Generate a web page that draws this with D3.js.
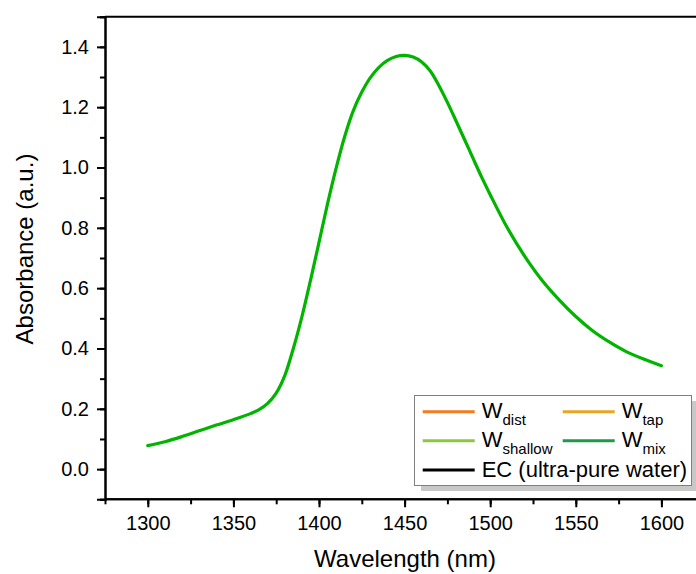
<!DOCTYPE html>
<html>
<head>
<meta charset="utf-8">
<script src="https://cdn.jsdelivr.net/npm/d3@7"></script>
<style>
  body { margin: 0; background: #fff; }
  text { font-family: "Liberation Sans", Arial, sans-serif; fill: #000; }
</style>
</head>
<body>
<script>
// absorbance spectrum (all five samples overlap)
var wavelength = [1300, 1310, 1320, 1330, 1340, 1350, 1360, 1365, 1370, 1375, 1380, 1385, 1390, 1395,
  1400, 1405, 1410, 1415, 1420, 1425, 1430, 1435, 1440, 1445, 1450, 1455, 1460, 1465, 1470, 1475,
  1480, 1485, 1490, 1495, 1500, 1510, 1520, 1530, 1540, 1550, 1560, 1570, 1580, 1590, 1600];
var absorbance = [0.078, 0.091, 0.108, 0.127, 0.146, 0.164, 0.184, 0.197, 0.218, 0.252, 0.310, 0.400, 0.505, 0.625,
  0.752, 0.880, 0.998, 1.103, 1.188, 1.250, 1.298, 1.332, 1.355, 1.368, 1.372, 1.366, 1.350, 1.320, 1.272, 1.216,
  1.155, 1.093, 1.030, 0.968, 0.910, 0.800, 0.707, 0.628, 0.563, 0.506, 0.458, 0.420, 0.388, 0.364, 0.343];

var xTicks = [1300, 1350, 1400, 1450, 1500, 1550, 1600];
var yTicks = [0.0, 0.2, 0.4, 0.6, 0.8, 1.0, 1.2, 1.4];

var legendNames = ['W', 'W', 'W', 'W', 'EC (ultra-pure water)'];
var legendSubs = ['dist', 'tap', 'shallow', 'mix', ''];
var legendColors = ['#f47b20', '#e9a623', '#8dc63f', '#1e9a4a', '#000000'];

var W = 696, H = 574;
var svg = d3.select('body').append('svg')
  .attr('width', W)
  .attr('height', H);

var x = d3.scaleLinear().domain([1275, 1625]).range([105, 704.2]);
var y = d3.scaleLinear().domain([-0.1, 1.5]).range([499.3, 16.7]);

// frame (top line; right side is cut off in the original)
svg.append('line')
  .attr('x1', x(1275)).attr('x2', W + 5)
  .attr('y1', y(1.5)).attr('y2', y(1.5))
  .attr('stroke', '#000').attr('stroke-width', 2);

// minor ticks
var xMinor = d3.axisBottom(x).tickValues(d3.range(1275, 1626, 25)).tickSize(5).tickFormat('');
var yMinor = d3.axisLeft(y).tickValues(d3.range(-0.1, 1.51, 0.1)).tickSize(5).tickFormat('');
// major ticks
var xAxis = d3.axisBottom(x).tickValues(xTicks).tickSize(8).tickPadding(9).tickFormat(d3.format('d'));
var yAxis = d3.axisLeft(y).tickValues(yTicks).tickSize(8).tickPadding(8).tickFormat(d3.format('.1f'));

var gx = svg.append('g').attr('transform', 'translate(0,' + y(-0.1) + ')');
gx.append('g').call(xMinor);
gx.append('g').call(xAxis);
var gy = svg.append('g').attr('transform', 'translate(' + x(1275) + ',0)');
gy.append('g').call(yMinor);
gy.append('g').call(yAxis);

svg.selectAll('.domain').attr('stroke', '#000').attr('stroke-width', 2);
svg.selectAll('.tick line').attr('stroke', '#000').attr('stroke-width', 2);
svg.selectAll('.tick text').attr('font-size', 20).attr('font-family', '"Liberation Sans", Arial, sans-serif');
gx.selectAll('.domain').attr('d', 'M' + x(1275) + ',0H' + (W + 5));

// axis titles
svg.append('text')
  .attr('x', 405).attr('y', 567)
  .attr('text-anchor', 'middle')
  .attr('font-size', 24)
  .text('Wavelength (nm)');
svg.append('text')
  .attr('transform', 'translate(33,' + 249 + ') rotate(-90)')
  .attr('text-anchor', 'middle')
  .attr('font-size', 24)
  .text('Absorbance (a.u.)');

// curve
var line = d3.line()
  .x(function(d, i) { return x(wavelength[i]); })
  .y(function(d) { return y(d); })
  .curve(d3.curveCatmullRom.alpha(0.5));
svg.append('path')
  .datum(absorbance)
  .attr('d', line)
  .attr('fill', 'none')
  .attr('stroke', '#00b400')
  .attr('stroke-width', 3.2)
  .attr('stroke-linejoin', 'round')
  .attr('stroke-linecap', 'round');

// legend
var lg = svg.append('g');
lg.append('rect')
  .attr('x', 421).attr('y', 401).attr('width', 280).attr('height', 90)
  .attr('fill', '#c8c8c8');
lg.append('rect')
  .attr('x', 414.5).attr('y', 395.5).attr('width', 277).attr('height', 90)
  .attr('fill', '#fff').attr('stroke', '#7f7f7f').attr('stroke-width', 1);

var rowY = [411.7, 411.7, 440.7, 440.7, 470];
var colX = [422.7, 562.7, 422.7, 562.7, 422.7];
legendNames.forEach(function(name, i) {
  lg.append('line')
    .attr('x1', colX[i]).attr('x2', colX[i] + 52)
    .attr('y1', rowY[i]).attr('y2', rowY[i])
    .attr('stroke', legendColors[i]).attr('stroke-width', 3);
  var t = lg.append('text')
    .attr('x', colX[i] + 59).attr('y', rowY[i] + 6.5)
    .attr('font-size', 22);
  t.append('tspan').text(name);
  if (legendSubs[i]) {
    t.append('tspan').attr('dy', 6.5).attr('font-size', 15).text(legendSubs[i]);
  }
});
</script>
</body>
</html>
